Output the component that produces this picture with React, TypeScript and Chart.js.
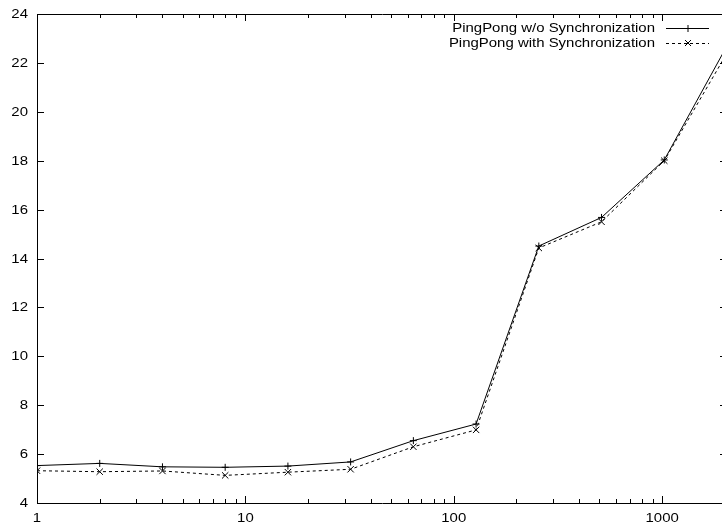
import React, { useEffect, useRef } from "react";
import { Chart, registerables } from "chart.js";

Chart.register(...registerables);

const xValues = [1, 2, 4, 8, 16, 32, 64, 128, 256, 512, 1024, 2048];
const seriesNoSync = [5.53, 5.62, 5.48, 5.46, 5.51, 5.68, 6.55, 7.23, 14.51, 15.68, 18.03, 22.7];
const seriesSync = [5.32, 5.28, 5.31, 5.13, 5.26, 5.38, 6.3, 6.99, 14.43, 15.5, 18.0, 22.4];
const seriesLabels = ["PingPong w/o Synchronization", "PingPong with Synchronization"];
const xLabelTicks = [1, 10, 100, 1000];
const yMin = 4;
const yMax = 24;
const yStep = 2;

const FONT = "'Liberation Sans', Arial, Helvetica, sans-serif";
const CW = 735;
const CH = 532;
const STRETCH = 1.15;

function stretchedText(ctx: any, text: string, x: number, y: number, align: string) {
  ctx.save();
  ctx.translate(x, y);
  ctx.scale(STRETCH, 1);
  ctx.textAlign = align;
  ctx.textBaseline = "middle";
  ctx.fillText(text, 0, 0);
  ctx.restore();
}

const framePlugin = {
  id: "gnuFrame",
  afterDraw(chart: any) {
    const ctx = chart.ctx;
    const { left, right, top, bottom } = chart.chartArea;
    const xs = chart.scales.x;
    const ys = chart.scales.y;
    ctx.save();
    ctx.strokeStyle = "#000";
    ctx.fillStyle = "#000";
    ctx.lineWidth = 1;
    ctx.setLineDash([]);
    ctx.beginPath();
    ctx.rect(left + 0.5, top + 0.5, right - left, bottom - top);
    ctx.stroke();
    ctx.font = `13px ${FONT}`;
    // y ticks
    ctx.beginPath();
    for (let v = yMin; v <= yMax; v += yStep) {
      const yp = ys.getPixelForValue(v);
      const y = Math.round(yp) + 0.5;
      ctx.moveTo(left, y);
      ctx.lineTo(left + 7, y);
      ctx.moveTo(right, y);
      ctx.lineTo(right - 7, y);
      stretchedText(ctx, String(v), left - 9, yp + 0.5, "right");
    }
    // x ticks
    for (let dec = 1; dec <= 1000; dec *= 10) {
      for (let m = 1; m <= 9; m++) {
        const v = dec * m;
        if (v > xs.max) break;
        const xp = xs.getPixelForValue(v);
        const x = Math.round(xp) + 0.5;
        const len = m === 1 ? 7 : 4;
        ctx.moveTo(x, bottom);
        ctx.lineTo(x, bottom - len);
        ctx.moveTo(x, top);
        ctx.lineTo(x, top + len);
        if (xLabelTicks.includes(v)) stretchedText(ctx, String(v), xp, bottom + 15, "center");
      }
    }
    ctx.stroke();
    // legend
    const rows = [28, 43];
    rows.forEach((ry, i) => {
      stretchedText(ctx, seriesLabels[i], 655, ry, "right");
      ctx.beginPath();
      ctx.setLineDash(i === 0 ? [] : [3, 3]);
      ctx.moveTo(666, ry + 0.5);
      ctx.lineTo(709, ry + 0.5);
      ctx.stroke();
      ctx.setLineDash([]);
      ctx.beginPath();
      if (i === 0) {
        ctx.moveTo(684.5, ry + 0.5);
        ctx.lineTo(691.5, ry + 0.5);
        ctx.moveTo(688, ry - 3);
        ctx.lineTo(688, ry + 4);
      } else {
        ctx.moveTo(685, ry - 3);
        ctx.lineTo(691, ry + 3);
        ctx.moveTo(691, ry - 3);
        ctx.lineTo(685, ry + 3);
      }
      ctx.stroke();
    });
    ctx.restore();
  },
};

export default function App() {
  const ref = useRef<HTMLCanvasElement>(null);
  useEffect(() => {
    document.body.style.overflow = "hidden";
    document.documentElement.style.overflow = "hidden";
    const chart = new Chart(ref.current as HTMLCanvasElement, {
      type: "scatter",
      data: {
        datasets: [
          {
            label: seriesLabels[0],
            data: xValues.map((x, i) => ({ x, y: seriesNoSync[i] })),
            showLine: true,
            borderColor: "#000",
            backgroundColor: "#000",
            borderWidth: 1,
            pointStyle: "cross",
            pointRadius: 3.5,
            pointBorderWidth: 1,
            pointBorderColor: "#000",
          },
          {
            label: seriesLabels[1],
            data: xValues.map((x, i) => ({ x, y: seriesSync[i] })),
            showLine: true,
            borderColor: "#000",
            backgroundColor: "#000",
            borderWidth: 1,
            borderDash: [3, 3],
            pointStyle: "crossRot",
            pointRadius: 4.5,
            pointBorderWidth: 1,
            pointBorderColor: "#000",
          },
        ],
      },
      options: {
        animation: false,
        responsive: false,
        devicePixelRatio: 1,
        layout: { padding: { left: 0, top: 14, right: CW - 727, bottom: 0 } },
        plugins: { legend: { display: false }, tooltip: { enabled: false } },
        scales: {
          x: {
            type: "logarithmic",
            min: 1,
            max: 2048,
            grid: { display: false, drawTicks: false },
            border: { display: false },
            afterFit: (s: any) => {
              s.height = CH - 503;
            },
            ticks: { display: false },
          },
          y: {
            min: yMin,
            max: yMax,
            grid: { display: false, drawTicks: false },
            border: { display: false },
            afterFit: (s: any) => {
              s.width = 37;
            },
            ticks: { display: false, stepSize: yStep },
          },
        },
      },
      plugins: [framePlugin],
    } as any);
    return () => chart.destroy();
  }, []);
  return (
    <div style={{ position: "absolute", left: 0, top: 0, width: CW, height: CH, background: "#fff" }}>
      <canvas ref={ref} width={CW} height={CH} style={{ width: CW, height: CH, display: "block" }} />
    </div>
  );
}
